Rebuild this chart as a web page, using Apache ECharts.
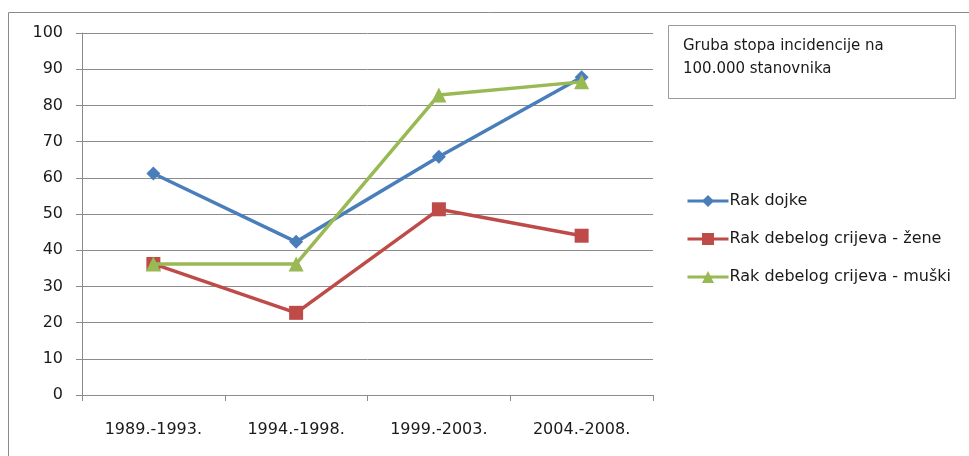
<!DOCTYPE html>
<html>
<head>
<meta charset="utf-8">
<style>
  html, body { margin: 0; padding: 0; background: #fff; }
  #chart { width: 969px; height: 456px; }
</style>
<script src="https://cdn.jsdelivr.net/npm/echarts@6/dist/echarts.min.js"></script>
</head>
<body>
<div id="chart"></div>
<script>
// Periods on the category axis
const periods = ['1989.-1993.', '1994.-1998.', '1999.-2003.', '2004.-2008.'];

// Crude incidence rate per 100,000 inhabitants
const rakDojke = [61.2, 42.3, 65.8, 87.8];
const rakCrijevaZene = [36.2, 22.7, 51.3, 44.0];
const rakCrijevaMuski = [36.2, 36.2, 82.9, 86.5];

const seriesNames = ['Rak dojke', 'Rak debelog crijeva - žene', 'Rak debelog crijeva - muški'];
const noteLines = ['Gruba stopa incidencije na', '100.000 stanovnika'];

const FONT = '"DejaVu Sans", "Liberation Sans", sans-serif';
const TEXT = '#1a1a1a';
const GRID = '#8c8c8c';

const chart = echarts.init(document.getElementById('chart'), null, { renderer: 'canvas' });

chart.setOption({
  backgroundColor: '#ffffff',
  animation: false,
  grid: { left: 82, top: 33, right: 316, bottom: 61, containLabel: false },
  legend: {
    orient: 'vertical',
    left: 681,
    top: 188,
    itemWidth: 41,
    itemHeight: 15,
    itemGap: 22,
    data: seriesNames,
    lineStyle: { width: 3 },
    textStyle: { fontFamily: FONT, fontSize: 16, color: TEXT, padding: [0, 0, 0, -4] }
  },
  xAxis: {
    type: 'category',
    data: periods,
    boundaryGap: true,
    axisLine: { lineStyle: { color: GRID, width: 1 } },
    axisTick: { show: true, length: 6, lineStyle: { color: GRID } },
    axisLabel: { fontFamily: FONT, fontSize: 16, color: TEXT, margin: 27 },
    splitLine: { show: false }
  },
  yAxis: {
    type: 'value',
    min: 0,
    max: 100,
    interval: 10,
    axisLine: { show: true, lineStyle: { color: GRID, width: 1 } },
    axisTick: { show: true, length: 6, lineStyle: { color: GRID } },
    axisLabel: { fontFamily: FONT, fontSize: 16, color: TEXT, margin: 19 },
    splitLine: { show: true, lineStyle: { color: GRID, width: 1 } }
  },
  series: [
    {
      name: seriesNames[0],
      type: 'line',
      data: rakDojke,
      color: '#4a7ebb',
      lineStyle: { width: 3.5 },
      symbol: 'diamond',
      symbolSize: 14,
      z: 3
    },
    {
      name: seriesNames[1],
      type: 'line',
      data: rakCrijevaZene,
      color: '#be4b48',
      lineStyle: { width: 3.5 },
      symbol: 'rect',
      symbolSize: 14,
      z: 2
    },
    {
      name: seriesNames[2],
      type: 'line',
      data: rakCrijevaMuski,
      color: '#98b954',
      lineStyle: { width: 3.5 },
      symbol: 'triangle',
      symbolSize: 15,
      z: 4
    }
  ],
  graphic: [
    {
      type: 'rect',
      shape: { x: 8.5, y: 12.5, width: 1100, height: 600 },
      style: { fill: 'none', stroke: '#8a8a8a', lineWidth: 1 },
      silent: true,
      z: -10
    },
    {
      type: 'rect',
      shape: { x: 668.5, y: 25.5, width: 287, height: 73 },
      style: { fill: '#ffffff', stroke: '#9a9a9a', lineWidth: 1 },
      silent: true
    },
    {
      type: 'text',
      left: 683,
      top: 35,
      style: {
        text: noteLines.join('\n'),
        font: '15px ' + FONT,
        fill: TEXT,
        lineHeight: 23
      },
      silent: true
    }
  ]
});
</script>
</body>
</html>
